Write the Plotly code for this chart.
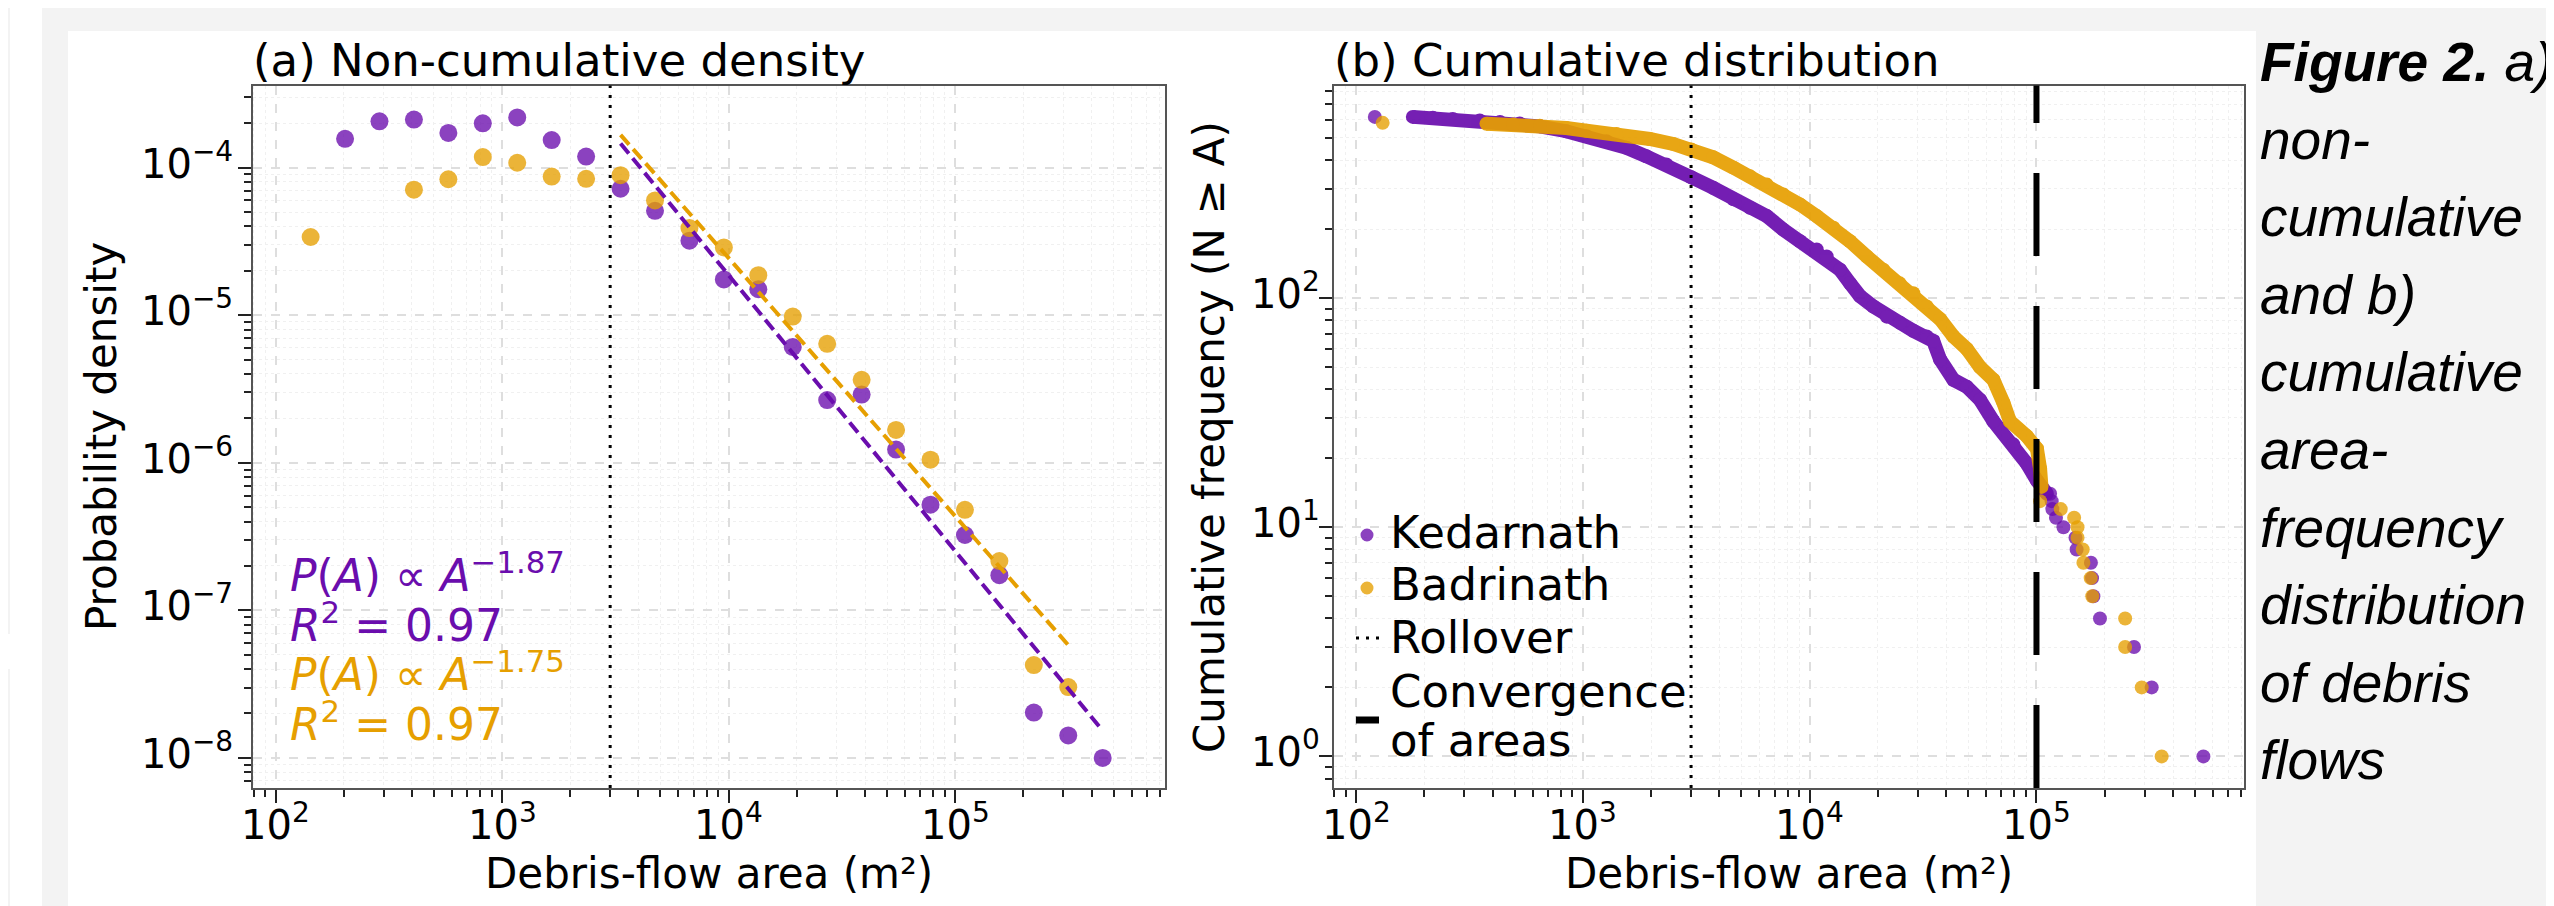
import plotly.graph_objects as go

W, H = 2554, 906
OX, OY = 8, 8  # page body margin compensation

# ---------------- data: panel (a) non-cumulative density ----------------
bin_area = [142.9, 202.8, 287.7, 408.3, 579.4, 822.2, 1166.8, 1655.8, 2349.6,
            3334.4, 4731.5, 6714.3, 9527.9, 13520, 19187, 27227, 38637, 54828,
            77804, 110408, 156675, 222331, 315500, 447713]
ked_density = [None, 1.57e-4, 2.06e-4, 2.12e-4, 1.72e-4, 2.0e-4, 2.19e-4, 1.54e-4,
               1.19e-4, 7.2e-5, 5.1e-5, 3.2e-5, 1.75e-5, 1.5e-5, 6.1e-6, 2.66e-6,
               2.9e-6, 1.23e-6, 5.2e-7, 3.24e-7, 1.73e-7, 2.03e-8, 1.42e-8, 1.0e-8]
bad_density = [3.39e-5, None, None, 7.1e-5, 8.35e-5, 1.18e-4, 1.08e-4, 8.7e-5,
               8.4e-5, 8.9e-5, 6.0e-5, 3.9e-5, 2.88e-5, 1.87e-5, 9.8e-6, 6.4e-6,
               3.65e-6, 1.67e-6, 1.05e-6, 4.8e-7, 2.16e-7, 4.26e-8, 3.02e-8, None]
ked_fit_exp, ked_fit_logc, ked_r2 = -1.87, 2.752, 0.97
bad_fit_exp, bad_fit_logc, bad_r2 = -1.75, 2.388, 0.97
fit_start_index = 9
rollover_area = 3000
convergence_area = 1e5

# ---------------- data: panel (b) cumulative distribution ----------------
ked_band_area = [178, 218, 267, 351, 431, 527, 646, 845, 1038, 1271, 1556, 1905, 2333,
                 3006, 3750, 4613, 5458, 6471, 7656, 9078, 10740, 11885, 13614, 15066,
                 16672, 19099, 21878, 25061, 28642, 32810, 35075, 37584, 43053, 49317,
                 56364, 64565, 79068, 90573, 100462, 111173]
ked_band_n = [618, 612, 605, 596, 587, 578, 562, 535, 509, 484, 453, 416, 383,
              337, 303, 270, 248, 228, 199, 177, 163, 152, 133, 116,
              102, 92, 83, 78, 72, 68, 65, 54, 44, 41,
              36, 29, 23, 19, 16, 14]
ked_pts_area = [121, 114815, 116681, 117490, 121899, 131522, 148600, 150300, 173780,
                175800, 178200, 190550, 269150, 322100, 544500]
ked_pts_n = [618, 14, 13, 12, 11, 10, 9, 8, 7, 6, 5, 4, 3, 2, 1]

bad_band_area = [376, 492, 646, 845, 1038, 1406, 1972, 2500, 3006, 3750, 4613, 5458,
                 6471, 7656, 9078, 10740, 12735, 15066, 17865, 21135, 24946, 28642,
                 32810, 37584, 43053, 49317, 56364, 64565, 71450, 76384, 90573,
                 100462, 103753, 105200]
bad_band_n = [577, 573, 566, 553, 538, 521, 495, 471, 445, 412, 371, 340,
              313, 283, 256, 228, 203, 177, 152, 133, 116, 105,
              92, 81, 68, 60, 50, 44, 35, 29, 25,
              22, 18, 15]
bad_pts_area = [131, 103750, 127940, 146550, 151710, 151710, 159960, 161070, 173380,
                176200, 246040, 246040, 291070, 356450]
bad_pts_n = [582, 13, 12, 11, 10, 9, 8, 7, 6, 5, 4, 3, 2, 1]

# tick label exponents
xa_exps = [2, 3, 4, 5]
ya_exps = [-8, -7, -6, -5, -4]
yb_exps = [0, 1, 2]

# legend entries
legend_labels = ["Kedarnath", "Badrinath", "Rollover", "Convergence", "of areas"]

# ---------------- styles ----------------
PURPLE = "#6a0dad"
ORANGE = "#e69f00"
PURPLE_A = "rgba(106,13,173,0.78)"
ORANGE_A = "rgba(230,159,0,0.78)"
FONT = "DejaVu Sans"
TICK_FS = 40


def fx(px):
    return (px - OX) / W


def fy(py):
    return 1 - (py - OY) / H


fig = go.Figure()

# panel (a) markers
fig.add_trace(go.Scatter(x=bin_area, y=ked_density, mode="markers", name="Kedarnath",
                         marker=dict(size=18, color=PURPLE_A, line=dict(width=0)),
                         xaxis="x", yaxis="y"))
fig.add_trace(go.Scatter(x=bin_area, y=bad_density, mode="markers", name="Badrinath",
                         marker=dict(size=18, color=ORANGE_A, line=dict(width=0)),
                         xaxis="x", yaxis="y"))


def fit_line(dens, logc, expo):
    idx = [i for i, v in enumerate(dens) if v is not None and i >= fit_start_index]
    xs = [bin_area[i] for i in range(idx[0], idx[-1] + 1)]
    ys = [10 ** logc * x ** expo for x in xs]
    return xs, ys


for dens, logc, expo, col, nm in [(ked_density, ked_fit_logc, ked_fit_exp, PURPLE, "Kedarnath fit"),
                                  (bad_density, bad_fit_logc, bad_fit_exp, ORANGE, "Badrinath fit")]:
    xs, ys = fit_line(dens, logc, expo)
    fig.add_trace(go.Scatter(x=xs, y=ys, mode="lines", name=nm,
                             line=dict(color=col, width=4, dash="13px,6px"),
                             xaxis="x", yaxis="y"))

# panel (b)
fig.add_trace(go.Scatter(x=ked_band_area, y=ked_band_n, mode="lines+markers", name="Kedarnath",
                         line=dict(color=PURPLE, width=14), opacity=0.92,
                         marker=dict(size=14, color=PURPLE, line=dict(width=0)),
                         xaxis="x2", yaxis="y2"))
fig.add_trace(go.Scatter(x=ked_pts_area, y=ked_pts_n, mode="markers", name="Kedarnath",
                         marker=dict(size=14, color=PURPLE_A, line=dict(width=0)),
                         xaxis="x2", yaxis="y2"))
fig.add_trace(go.Scatter(x=bad_band_area, y=bad_band_n, mode="lines+markers", name="Badrinath",
                         line=dict(color=ORANGE, width=14), opacity=0.92,
                         marker=dict(size=14, color=ORANGE, line=dict(width=0)),
                         xaxis="x2", yaxis="y2"))
fig.add_trace(go.Scatter(x=bad_pts_area, y=bad_pts_n, mode="markers", name="Badrinath",
                         marker=dict(size=14, color=ORANGE_A, line=dict(width=0)),
                         xaxis="x2", yaxis="y2"))

# ---------------- shapes ----------------
shapes = [
    dict(type="rect", xref="paper", yref="paper", x0=fx(10), x1=fx(42), y0=-0.05, y1=1.05,
         fillcolor="white", line=dict(width=0), layer="below"),
    dict(type="rect", xref="paper", yref="paper", x0=-0.05, x1=fx(10), y0=fy(669), y1=fy(634),
         fillcolor="white", line=dict(width=0), layer="below"),
    dict(type="rect", xref="paper", yref="paper", x0=fx(68), x1=fx(2256), y0=-0.05, y1=fy(31),
         fillcolor="white", line=dict(width=0), layer="below"),
    dict(type="line", xref="x", yref="y domain", x0=rollover_area, x1=rollover_area, y0=0, y1=1,
         line=dict(color="black", width=3, dash="3px,7px")),
    dict(type="line", xref="x2", yref="y2 domain", x0=rollover_area, x1=rollover_area, y0=0, y1=1,
         line=dict(color="black", width=3, dash="3px,7px")),
    dict(type="line", xref="x2", yref="y2 domain", x0=convergence_area, x1=convergence_area,
         y0=0, y1=1, line=dict(color="black", width=6, dash="83px,50px")),
]

# legend keys (manual legend, panel b)
LKX = 1367
for col, cy in [(PURPLE_A, 535), (ORANGE_A, 588)]:
    shapes.append(dict(type="circle", xref="paper", yref="paper",
                       x0=fx(LKX - 6.5), x1=fx(LKX + 6.5), y0=fy(cy + 6.5), y1=fy(cy - 6.5),
                       fillcolor=col, line=dict(width=0)))
shapes.append(dict(type="line", xref="paper", yref="paper", x0=fx(1356), x1=fx(1380),
                   y0=fy(638), y1=fy(638), line=dict(color="black", width=3, dash="3px,7px")))
shapes.append(dict(type="line", xref="paper", yref="paper", x0=fx(1356), x1=fx(1379),
                   y0=fy(720), y1=fy(720), line=dict(color="black", width=7)))

# ---------------- annotations ----------------
ann = []


def text(t, x, y, size, color="black", xanchor="left", yanchor="middle", angle=0,
         xref="paper", yref="paper", family=FONT, yshift=0):
    ann.append(dict(text=t, xref=xref, yref=yref, x=x, y=y, xanchor=xanchor,
                    yanchor=yanchor, textangle=angle, showarrow=False, yshift=yshift,
                    font=dict(family=family, size=size, color=color)))


text("(a) Non-cumulative density", fx(251), fy(61), 45)
text("(b) Cumulative distribution", fx(1332), fy(61), 45)
for cx in [(252.5 + 1165) / 2, (1333.6 + 2244) / 2]:
    text("Debris-flow area (m²)", fx(cx), fy(873), 42, xanchor="center")
text("Probability density", fx(101), fy(437), 42, xanchor="center", angle=-90)
text("Cumulative frequency (N ≥ A)", fx(1209), fy(437), 42, xanchor="center", angle=-90)


def pow_label(e):
    s = str(abs(e))
    return "10<sup>" + ("−" if e < 0 else "") + s + "</sup>"


# tick labels
for e in xa_exps:
    text(pow_label(e), e, fy(794), TICK_FS, xanchor="center", yanchor="top", xref="x")
    text(pow_label(e), e, fy(794), TICK_FS, xanchor="center", yanchor="top", xref="x2")
for e in ya_exps:
    text(pow_label(e), fx(235), e, TICK_FS, xanchor="right", yanchor="middle", yref="y", yshift=7)
for e in yb_exps:
    text(pow_label(e), fx(1322), e, TICK_FS, xanchor="right", yanchor="middle", yref="y2", yshift=7)

fit_texts = [
    (f"<i>P</i>(<i>A</i>) ∝ <i>A</i><sup>−{abs(ked_fit_exp):.2f}</sup>", PURPLE, 572),
    (f"<i>R</i><sup>2</sup> = {ked_r2:.2f}", PURPLE, 622),
    (f"<i>P</i>(<i>A</i>) ∝ <i>A</i><sup>−{abs(bad_fit_exp):.2f}</sup>", ORANGE, 671),
    (f"<i>R</i><sup>2</sup> = {bad_r2:.2f}", ORANGE, 721),
]
for t, c, yc in fit_texts:
    text(t, fx(288), fy(yc), 44, color=c)

# legend texts
for lab, cy in zip(legend_labels, [532, 584, 637, 691, 740]):
    text(lab, fx(1388), fy(cy), 45)

caption = ["<b><i>Figure 2.</i></b><i>\u00a0a)</i>", "<i>non-</i>", "<i>cumulative</i>",
           "<i>and b)</i>", "<i>cumulative</i>", "<i>area-</i>", "<i>frequency</i>",
           "<i>distribution</i>", "<i>of debris</i>", "<i>flows</i>"]
for i, line in enumerate(caption):
    text(line, fx(2258), fy(62 + 77.6 * i), 55, family="Liberation Sans, Arial")

# ---------------- axes ----------------
def axis_common():
    return dict(
        type="log", dtick=1, showticklabels=False,
        ticks="outside", ticklen=13, tickwidth=2, tickcolor="#222",
        showline=True, linecolor="#555", linewidth=2, mirror=True,
        showgrid=True, gridcolor="#dedede", griddash="dash", gridwidth=1.5,
        minor=dict(ticks="outside", ticklen=7, tickwidth=1.5, tickcolor="#222",
                   showgrid=True, gridcolor="#f0f0f0", griddash="dot", gridwidth=1),
        zeroline=False,
    )


ydom = [fy(788), fy(85.5)]
xa = axis_common(); xa.update(domain=[fx(252.5), fx(1165)], range=[1.8985, 5.926], anchor="y")
ya = axis_common(); ya.update(domain=ydom, range=[-8.204, -3.443], anchor="x")
xb = axis_common(); xb.update(domain=[fx(1333.6), fx(2244)], range=[1.901, 5.915], anchor="y2")
yb = axis_common(); yb.update(domain=ydom, range=[-0.138, 2.928], anchor="x2")

fig.update_layout(
    width=W, height=H, autosize=False,
    margin=dict(l=0, r=0, t=0, b=0, pad=0),
    paper_bgcolor="#f3f3f3", plot_bgcolor="white",
    xaxis=xa, yaxis=ya, xaxis2=xb, yaxis2=yb,
    shapes=shapes, annotations=ann,
    showlegend=False,
)

fig.write_html("out.html")
